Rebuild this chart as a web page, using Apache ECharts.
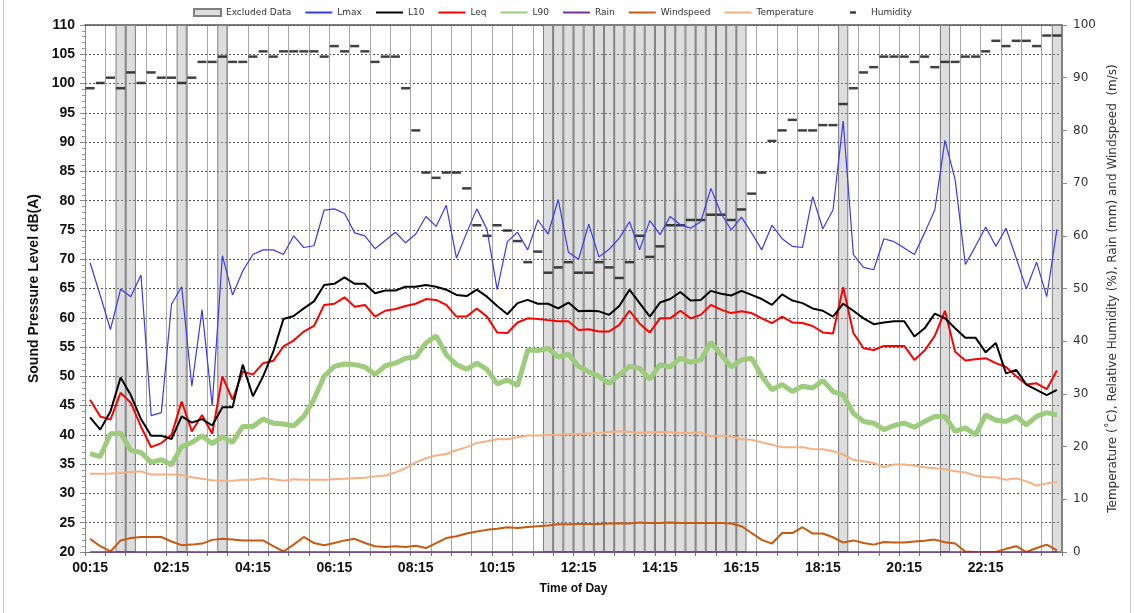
<!DOCTYPE html>
<html>
<head>
<meta charset="utf-8">
<script src="https://cdn.jsdelivr.net/npm/echarts@6/dist/echarts.min.js"></script>
<style>
html,body{margin:0;padding:0;background:#fff;}
#chart{width:1135px;height:613px;}
</style>
</head>
<body>
<div id="chart"></div>
<script>
const categories = ['00:15','00:30','00:45','01:00','01:15','01:30','01:45','02:00','02:15','02:30','02:45','03:00','03:15','03:30','03:45','04:00','04:15','04:30','04:45','05:00','05:15','05:30','05:45','06:00','06:15','06:30','06:45','07:00','07:15','07:30','07:45','08:00','08:15','08:30','08:45','09:00','09:15','09:30','09:45','10:00','10:15','10:30','10:45','11:00','11:15','11:30','11:45','12:00','12:15','12:30','12:45','13:00','13:15','13:30','13:45','14:00','14:15','14:30','14:45','15:00','15:15','15:30','15:45','16:00','16:15','16:30','16:45','17:00','17:15','17:30','17:45','18:00','18:15','18:30','18:45','19:00','19:15','19:30','19:45','20:00','20:15','20:30','20:45','21:00','21:15','21:30','21:45','22:00','22:15','22:30','22:45','23:00','23:15','23:30','23:45','00:00'];

const excludedTimes = ['01:00','01:15','02:30','03:30','11:30','11:45','12:00','12:15','12:30','12:45','13:00','13:15','13:30','13:45','14:00','14:15','14:30','14:45','15:00','15:15','15:30','15:45','16:00','16:15','18:45','21:15','00:00'];
const excludedLevel = 100;

const lmax = [69.4,63.8,58.0,64.9,63.6,67.3,43.3,43.8,62.3,65.3,48.3,61.4,45.0,70.6,63.9,68.0,70.8,71.6,71.6,70.8,74.0,72.0,72.3,78.4,78.6,77.8,74.5,74.0,71.8,73.2,74.6,72.8,74.3,77.3,75.6,79.2,70.2,74.5,78.6,75.1,64.8,73.0,74.6,71.6,76.7,74.3,80.2,71.2,70.0,76.0,70.4,71.7,73.6,76.4,71.6,76.6,74.2,77.3,75.9,75.3,76.4,82.1,77.8,75.0,77.2,74.5,71.6,75.8,73.5,72.2,72.0,80.7,75.2,78.4,93.6,70.8,68.6,68.2,73.5,73.0,71.9,70.8,74.5,78.4,90.3,83.6,69.1,72.2,75.5,72.2,75.3,70.2,64.9,69.5,63.6,75.1];

const l10 = [43.0,40.9,44.0,49.8,46.8,42.7,39.85,39.85,39.3,43.15,42.1,42.7,41.6,44.7,44.7,52.0,46.6,50.0,54.2,59.8,60.3,61.6,62.8,65.6,65.8,66.9,65.8,65.8,64.2,64.65,64.65,65.3,65.3,65.6,65.3,64.8,63.9,63.7,64.8,63.6,62.0,60.6,62.5,63.05,62.4,62.4,61.6,62.6,61.1,61.2,61.1,60.5,62.0,64.8,62.5,60.2,62.6,63.2,64.4,62.95,63.05,64.6,64.1,63.8,64.6,63.9,63.2,62.2,64.0,62.95,62.5,61.6,61.2,60.2,62.4,61.2,59.9,58.9,59.2,59.4,59.4,56.8,58.2,60.7,59.9,58.2,56.6,56.6,54.1,55.7,50.5,51.1,48.6,47.7,46.8,47.7];

const leq = [46.0,43.15,42.6,47.2,45.5,41.4,37.9,38.6,40.0,45.7,40.6,43.4,40.2,50.0,46.0,50.8,50.3,52.25,52.65,55.1,56.1,57.65,58.6,62.2,62.4,63.5,61.9,62.2,60.2,61.2,61.5,62.0,62.4,63.2,63.05,62.2,60.2,60.2,61.6,60.2,57.5,57.4,59.2,59.9,59.8,59.6,59.4,59.4,57.9,58.05,57.65,57.65,58.8,61.2,59.0,57.5,59.9,59.9,61.2,59.9,60.5,62.2,61.4,60.8,61.1,60.8,59.9,59.1,60.2,59.2,59.1,58.6,57.5,57.3,65.2,57.4,54.8,54.5,55.2,55.2,55.2,52.8,54.4,56.9,61.2,54.2,52.7,52.9,53.1,52.25,51.6,50.0,48.6,48.8,47.8,51.0];

const l90 = [36.8,36.3,40.2,40.3,37.35,37.0,35.3,35.75,34.9,38.0,38.7,39.85,38.5,39.7,38.7,41.45,41.45,42.7,42.0,41.85,41.55,43.15,46.1,50.0,51.7,52.1,52.0,51.6,50.3,51.8,52.25,53.1,53.3,55.7,56.9,53.7,52.0,51.2,52.25,51.2,48.7,49.4,48.4,54.5,54.4,54.8,53.3,53.8,51.7,50.8,50.0,48.8,50.3,51.7,51.4,49.5,52.0,51.6,53.1,52.4,52.8,55.8,53.7,51.6,52.8,53.1,50.0,47.7,48.6,47.4,48.3,48.0,49.3,47.4,46.85,43.7,42.3,42.0,40.9,41.6,42.0,41.3,42.3,43.15,43.15,40.6,41.2,40.0,43.4,42.5,42.3,43.15,41.7,43.15,43.8,43.4];

const rain = [0,0,0,0,0,0,0,0,0,0,0,0,0,0,0,0,0,0,0,0,0,0,0,0,0,0,0,0,0,0,0,0,0,0,0,0,0,0,0,0,0,0,0,0,0,0,0,0,0,0,0,0,0,0,0,0,0,0,0,0,0,0,0,0,0,0,0,0,0,0,0,0,0,0,0,0,0,0,0,0,0,0,0,0,0,0,0,0,0,0,0,0,0,0,0,0];

const windspeed = [2.5,1.1,0.1,2.2,2.65,2.85,2.85,2.85,2.0,1.3,1.4,1.6,2.3,2.5,2.35,2.2,2.2,2.2,1.1,0.1,1.4,2.85,1.7,1.3,1.7,2.2,2.5,1.7,1.1,0.95,1.1,0.95,1.2,0.75,1.7,2.65,3.0,3.5,3.9,4.2,4.4,4.7,4.55,4.75,4.9,5.05,5.25,5.25,5.3,5.3,5.3,5.4,5.45,5.4,5.6,5.5,5.5,5.6,5.5,5.5,5.5,5.5,5.5,5.4,4.9,3.6,2.3,1.6,3.6,3.6,4.7,3.5,3.5,2.8,1.8,2.2,1.7,1.4,1.9,1.8,1.8,2.0,2.15,2.35,1.85,1.6,0.1,0,0,0,0.6,1.1,0,0.75,1.4,0.3];

const temperature = [14.85,14.85,14.9,15.0,15.2,15.3,14.7,14.7,14.7,14.6,14.2,13.9,13.6,13.5,13.5,13.7,13.7,14.0,13.8,13.5,13.8,13.7,13.7,13.7,13.8,13.9,14.0,14.1,14.35,14.5,15.1,15.9,17.0,17.8,18.3,18.6,19.3,19.9,20.7,21.0,21.4,21.4,21.8,22.1,22.1,22.2,22.25,22.4,22.4,22.5,22.6,22.75,22.9,22.8,22.6,22.7,22.75,22.7,22.6,22.6,22.7,21.9,22.1,21.9,21.4,21.3,20.8,20.35,19.9,19.9,19.9,19.5,19.5,19.1,18.5,17.5,17.2,16.9,16.1,16.6,16.6,16.4,16.1,15.9,15.7,15.3,15.1,14.5,14.2,14.2,13.7,14.0,13.4,12.6,13.0,13.3];

const humidity = [88,89,90,88,91,89,91,90,90,89,90,93,93,94,93,93,94,95,94,95,95,95,95,94,96,95,96,95,93,94,94,88,80,72,71,72,72,69,62,60,62,61,59,55,57,53,54,55,53,53,55,54,52,55,60,56,58,62,62,63,63,64,64,63,65,68,72,78,80,82,80,80,81,81,85,88,91,92,94,94,94,93,94,92,93,93,94,94,95,97,96,97,97,96,98,98];

const leftTicks = {min: 20, max: 110, interval: 5};
const rightTicks = {min: 0, max: 100, interval: 10};

const excludedData = categories.map(c => excludedTimes.includes(c) ? excludedLevel : '-');

const chart = echarts.init(document.getElementById('chart'), null, {renderer: 'canvas'});
const FONT = 'Liberation Sans';
const lineSeries = (name, data, color, width, yIdx) => ({
  name, type: 'line', data, yAxisIndex: yIdx, symbol: 'none', showSymbol: false,
  lineStyle: {color, width}, itemStyle: {color}, animation: false
});
const lineLegend = name => ({name, itemStyle: {opacity: 0, borderWidth: 0}});

chart.setOption({
  animation: false,
  textStyle: {fontFamily: FONT},
  graphic: [{type: 'rect', shape: {x: 3.5, y: -3, width: 1127, height: 620}, style: {fill: 'none', stroke: '#c8c8c8', lineWidth: 1}, silent: true}],
  legend: [{
    left: 188, top: 3, itemWidth: 27, itemHeight: 7, itemGap: 13,
    textStyle: {fontFamily: 'DejaVu Sans', fontSize: 9, color: '#333'},
    data: [{name: 'Excluded Data', icon: 'rect'}, lineLegend('Lmax'), lineLegend('L10'), lineLegend('Leq'), lineLegend('L90'), lineLegend('Rain'), lineLegend('Windspeed'), lineLegend('Temperature')]
  }, {
    left: 845, top: 3, itemWidth: 6, itemHeight: 2.5, itemGap: 13,
    textStyle: {fontFamily: 'DejaVu Sans', fontSize: 9, color: '#333', padding: [0, 0, 0, 10]},
    data: ['Humidity']
  }],
  grid: {left: 85, right: 73, top: 25, bottom: 61, containLabel: false},
  xAxis: [{
    type: 'category', data: categories, boundaryGap: true,
    name: 'Time of Day', nameLocation: 'middle', nameGap: 31,
    nameTextStyle: {fontFamily: FONT, fontWeight: 'bold', fontSize: 12, color: '#111'},
    axisLine: {lineStyle: {color: '#777', width: 1}},
    axisTick: {show: true, interval: 1, length: 4, lineStyle: {color: '#777'}},
    axisLabel: {interval: 7, fontFamily: FONT, fontWeight: 'bold', fontSize: 14, color: '#111', margin: 9},
    splitLine: {show: true, interval: 1, lineStyle: {color: '#a8a8a8', width: 1}}
  }, {
    type: 'category', data: categories, position: 'top', boundaryGap: true,
    axisLine: {show: true, lineStyle: {color: '#555', width: 1.5}},
    axisTick: {show: false}, axisLabel: {show: false}, splitLine: {show: false}
  }],
  yAxis: [{
    type: 'value', min: leftTicks.min, max: leftTicks.max, interval: leftTicks.interval,
    name: 'Sound Pressure Level dB(A)', nameLocation: 'middle', nameGap: 40, nameRotate: 90,
    nameTextStyle: {fontFamily: FONT, fontWeight: 'bold', fontSize: 14, color: '#111'},
    axisLine: {show: true, lineStyle: {color: '#888'}},
    axisTick: {show: true, length: 5, lineStyle: {color: '#888'}},
    minorTick: {show: true, splitNumber: 5, length: 3, lineStyle: {color: '#999'}},
    axisLabel: {fontFamily: FONT, fontWeight: 'bold', fontSize: 14, color: '#111', margin: 10},
    splitLine: {show: true, lineStyle: {color: '#555', type: [2, 2], width: 1}}
  }, {
    type: 'value', min: rightTicks.min, max: rightTicks.max, interval: rightTicks.interval,
    position: 'right',
    name: 'Temperature (˚C), Relative Humidity (%), Rain (mm) and Windspeed  (m/s)',
    nameLocation: 'middle', nameGap: 43, nameRotate: 90,
    nameTextStyle: {fontFamily: 'DejaVu Sans', fontSize: 12, color: '#333'},
    axisLine: {show: true, lineStyle: {color: '#888'}},
    axisTick: {show: true, length: 5, lineStyle: {color: '#888'}},
    axisLabel: {fontFamily: 'DejaVu Sans', fontSize: 12, color: '#333', margin: 11},
    splitLine: {show: false}
  }],
  series: [
    {name: 'Excluded Data', type: 'bar', data: excludedData, yAxisIndex: 1, barWidth: '100%', barGap: '0%', barCategoryGap: '0%',
     itemStyle: {color: 'rgba(160,160,160,0.36)', borderColor: '#7f7f7f', borderWidth: 1}, animation: false},
    lineSeries('Temperature', temperature, '#f4b183', 2, 1),
    lineSeries('Windspeed', windspeed, '#c55a11', 2, 1),
    lineSeries('Rain', rain, '#7030a0', 1.5, 1),
    lineSeries('L90', l90, '#9ccc7c', 5, 0),
    lineSeries('Leq', leq, '#ff0000', 2, 0),
    lineSeries('L10', l10, '#000000', 2, 0),
    lineSeries('Lmax', lmax, '#3a3af0', 1.2, 0),
    {name: 'Humidity', type: 'scatter', data: humidity, yAxisIndex: 1, symbol: 'rect', symbolSize: [9, 2.5],
     itemStyle: {color: '#111'}, animation: false}
  ]
});
</script>
</body>
</html>
